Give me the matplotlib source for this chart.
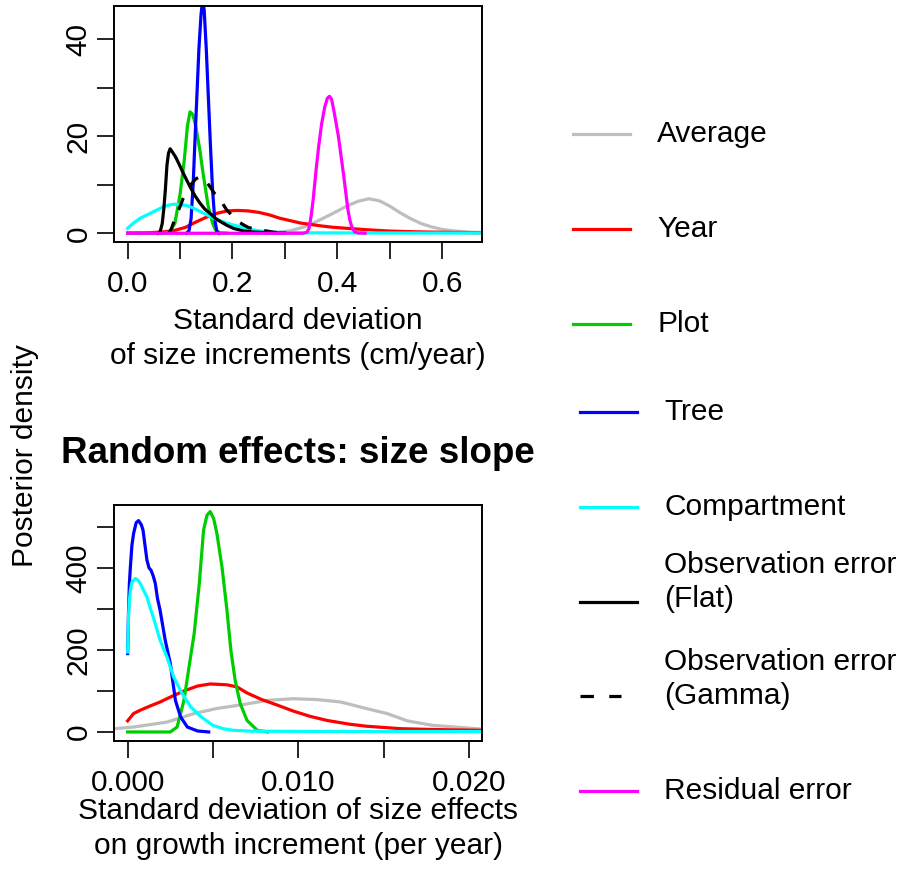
import numpy as np
import matplotlib
matplotlib.use("Agg")
import matplotlib.pyplot as plt
from matplotlib.lines import Line2D

plt.rcParams["font.family"] = ["Liberation Sans", "DejaVu Sans"]

# ---- top panel: sd of size increments (cm/year) ----
avg_x = [0.28, 0.31, 0.34, 0.36, 0.39, 0.42, 0.44, 0.46, 0.48, 0.50, 0.52, 0.54, 0.56, 0.58, 0.60, 0.62, 0.65, 0.68]
avg_y = [0.1, 0.5, 1.4, 2.4, 4.0, 5.7, 6.6, 7.1, 6.7, 5.6, 4.2, 3.0, 2.0, 1.3, 0.8, 0.5, 0.25, 0.15]

year_x = [0.00, 0.04, 0.07, 0.09, 0.11, 0.13, 0.15, 0.17, 0.19, 0.21, 0.23, 0.25, 0.27, 0.29, 0.31, 0.33,
          0.35, 0.37, 0.39, 0.42, 0.46, 0.50, 0.55, 0.60, 0.68]
year_y = [0.05, 0.1, 0.3, 0.6, 1.2, 2.3, 3.3, 4.1, 4.6, 4.7, 4.6, 4.3, 3.8, 3.1, 2.6, 2.1,
          1.8, 1.5, 1.25, 1.0, 0.7, 0.45, 0.3, 0.2, 0.1]

plot_x = [0.00, 0.07, 0.08, 0.09, 0.10, 0.108, 0.114, 0.119, 0.124, 0.129, 0.134, 0.138, 0.143, 0.148,
          0.153, 0.158, 0.163, 0.168, 0.175, 0.19]
plot_y = [0, 0, 0.3, 2, 8, 15, 22, 25, 24.5, 22.5, 19.5, 17, 13, 9.5,
          6, 3.6, 1.8, 0.6, 0.1, 0]

tree_x = [0.112, 0.117, 0.121, 0.125, 0.128, 0.132, 0.136, 0.140, 0.143, 0.146, 0.150, 0.154, 0.158,
          0.162, 0.166, 0.170, 0.174]
tree_y = [0, 0.5, 3, 10, 18, 28, 38, 45, 48, 46, 38, 28, 18, 9, 3, 0.5, 0]

comp_x = [0.00, 0.01, 0.024, 0.043, 0.056, 0.069, 0.08, 0.091, 0.102, 0.113, 0.125, 0.138, 0.151, 0.164,
          0.177, 0.189, 0.205, 0.221, 0.246, 0.278, 0.32, 0.40, 0.50, 0.68]
comp_y = [1.0, 2.0, 3.1, 4.1, 4.8, 5.5, 5.85, 6.0, 5.9, 5.7, 5.2, 4.5, 3.8, 3.1,
          2.6, 2.1, 1.6, 1.2, 0.55, 0.2, 0.1, 0.07, 0.05, 0.05]

flat_x = [0.058, 0.062, 0.066, 0.069, 0.072, 0.075, 0.078, 0.081, 0.085, 0.091, 0.097, 0.103, 0.111,
          0.119, 0.128, 0.138, 0.147, 0.157, 0.167, 0.177, 0.19, 0.202, 0.22, 0.24, 0.27, 0.30]
flat_y = [0, 0.3, 2, 5, 9, 14, 16.5, 17.4, 16.8, 15.8, 14.5, 13.1, 11.3,
          9.6, 7.8, 6.2, 5.0, 4.1, 3.1, 2.4, 1.6, 1.0, 0.5, 0.25, 0.1, 0.05]

gamma_x = [0.078, 0.083, 0.087, 0.091, 0.096, 0.100, 0.106, 0.113, 0.118, 0.123, 0.130, 0.137, 0.145,
           0.151, 0.157, 0.165, 0.177, 0.183, 0.189, 0.20, 0.211, 0.22, 0.23, 0.245, 0.26, 0.28, 0.30]
gamma_y = [0, 0.8, 2, 3.4, 4.5, 5.5, 7.2, 8.6, 9.6, 10.3, 11.2, 11.6, 11.3,
           10.5, 9.6, 8.3, 6.9, 5.8, 4.8, 3.6, 2.4, 1.8, 1.2, 0.8, 0.55, 0.2, 0.1]

resid_x = [0.0, 0.335, 0.342, 0.346, 0.350, 0.354, 0.359, 0.364, 0.370, 0.376, 0.381, 0.385, 0.389,
           0.393, 0.398, 0.402, 0.407, 0.412, 0.416, 0.420, 0.424, 0.428, 0.433, 0.44, 0.453]
resid_y = [0, 0, 0.2, 1, 3.5, 7, 12.5, 17.5, 22.5, 26, 27.8, 28.2, 27.6,
           25.5, 22.5, 20, 16, 12, 8.5, 5, 2.7, 1.2, 0.3, 0.05, 0]

# ---- bottom panel: sd of size effects (per year) ----
s_avg_x = [-0.0008, 0.00035, 0.0023, 0.0039, 0.0052, 0.0068, 0.0082, 0.0097, 0.0111, 0.0125, 0.014,
           0.0152, 0.0164, 0.0179, 0.0195, 0.0208]
s_avg_y = [8, 12, 24, 45, 57, 67, 77, 81, 79, 73, 57, 45, 27, 16, 11, 7]

s_year_x = [0.0, 0.00035, 0.00074, 0.0013, 0.0019, 0.0025, 0.0033, 0.0041, 0.00484, 0.0058, 0.0064,
            0.007, 0.0078, 0.0088, 0.0097, 0.0107, 0.0117, 0.013, 0.014, 0.016, 0.0179, 0.0208]
s_year_y = [27, 45, 53, 63, 73, 85, 100, 112, 117, 115, 110, 95, 80, 65, 51, 38, 28, 19, 14, 8, 6, 4]

s_plot_x = [0.0, 0.0025, 0.0029, 0.0033, 0.0036, 0.0039, 0.0042, 0.00445, 0.00465, 0.00484, 0.00504,
            0.00523, 0.00553, 0.00582, 0.00605, 0.0063, 0.0066, 0.007, 0.0076, 0.0082]
s_plot_y = [0, 0, 12, 77, 159, 240, 362, 492, 528, 537, 520, 484, 402, 297, 199, 126, 69, 28, 4, 0]

s_tree_x = [0.0, 0.00005, 0.0001, 0.00016, 0.00025, 0.00035, 0.0005, 0.00064, 0.0008, 0.0009, 0.001,
            0.00113, 0.00125, 0.00137, 0.0015, 0.00162, 0.00175, 0.0019, 0.0022, 0.0025, 0.0028,
            0.0031, 0.0035, 0.0041, 0.00475]
s_tree_y = [191, 290, 360, 402, 455, 484, 510, 515, 505, 492, 460, 419, 400, 394, 380, 362, 325, 297,
            224, 167, 77, 37, 12, 2.4, 0]

s_comp_x = [0.0, 0.00005, 0.0001, 0.00016, 0.00025, 0.00045, 0.0006, 0.00074, 0.0009, 0.00113, 0.0013,
            0.0015, 0.0017, 0.0019, 0.0021, 0.0023, 0.0025, 0.0027, 0.0032, 0.0037, 0.0043, 0.005,
            0.0056, 0.0062, 0.0072, 0.010, 0.015, 0.0208]
s_comp_y = [195, 280, 320, 345, 365, 374, 370, 362, 348, 329, 305, 280, 252, 224, 203, 183, 158, 134,
            93, 61, 37, 16, 8, 4, 2, 1.5, 1, 1]

GRAY, RED, GREEN, BLUE, CYAN, MAG = "#BEBEBE", "#FF0000", "#00CD00", "#0000FF", "#00FFFF", "#FF00FF"
LW = 2.3
FS = 21.5

fig = plt.figure(figsize=(9, 8.71), dpi=100)
ax1 = fig.add_axes([114 / 900, 1 - 242 / 871, 368 / 900, 236 / 871])
ax2 = fig.add_axes([114 / 900, 1 - 741 / 871, 368 / 900, 236 / 871])

dash = (0, (4, 4))
ax1.plot(avg_x, avg_y, color=GRAY, lw=LW)
ax1.plot(year_x, year_y, color=RED, lw=LW)
ax1.plot(plot_x, plot_y, color=GREEN, lw=LW)
ax1.plot(tree_x, tree_y, color=BLUE, lw=LW)
ax1.plot(comp_x, comp_y, color=CYAN, lw=LW)
ax1.plot(flat_x, flat_y, color="black", lw=LW)
ax1.plot(gamma_x, gamma_y, color="black", lw=LW, linestyle=dash)
ax1.plot(resid_x, resid_y, color=MAG, lw=LW)
ax1.set_xlim(-0.026, 0.676)
ax1.set_ylim(-1.8, 46.8)
ax1.set_xticks(np.arange(0, 0.61, 0.1))
ax1.set_xticklabels(["0.0", "", "0.2", "", "0.4", "", "0.6"])
ax1.set_yticks([0, 10, 20, 30, 40])
ax1.set_yticklabels(["0", "", "20", "", "40"])
ax1.set_xlabel("Standard deviation\nof size increments (cm/year)", fontsize=FS, labelpad=6, linespacing=1.32)

ax2.plot(s_avg_x, s_avg_y, color=GRAY, lw=LW)
ax2.plot(s_year_x, s_year_y, color=RED, lw=LW)
ax2.plot(s_plot_x, s_plot_y, color=GREEN, lw=LW)
ax2.plot(s_tree_x, s_tree_y, color=BLUE, lw=LW)
ax2.plot(s_comp_x, s_comp_y, color=CYAN, lw=LW)
ax2.set_xlim(-0.0008, 0.02077)
ax2.set_ylim(-22, 553)
ax2.set_xticks([0, 0.005, 0.01, 0.015, 0.02])
ax2.set_xticklabels(["0.000", "", "0.010", "", "0.020"])
ax2.set_yticks([0, 100, 200, 300, 400, 500])
ax2.set_yticklabels(["0", "", "200", "", "400", ""])
ax2.set_xlabel("Standard deviation of size effects\non growth increment (per year)", fontsize=FS,
               labelpad=0, linespacing=1.28)
ax2.set_title("Random effects: size slope", fontsize=26.5, fontweight="bold", pad=30)

for ax in (ax1, ax2):
    for s in ax.spines.values():
        s.set_linewidth(1.4)
    ax.tick_params(axis="both", length=12.5, width=1.2, labelsize=FS, direction="out")
    ax.tick_params(axis="x", pad=8)
    ax.tick_params(axis="y", pad=3)
    for lab in ax.get_yticklabels():
        lab.set_rotation(90)
        lab.set_va("center")
        lab.set_ha("right")

fig.text(25 / 900, 1 - 456 / 871, "Posterior density", rotation=90, fontsize=FS, ha="center", va="center")

# legend on the right (pixel positions)
leg_labels = ["Average", "Year", "Plot", "Tree", "Compartment",
              "Observation error\n(Flat)", "Observation error\n(Gamma)", "Residual error"]
leg_colors = [GRAY, RED, GREEN, BLUE, CYAN, "black", "black", MAG]
leg_styles = ["-", "-", "-", "-", "-", "-", (0, (4.2, 4.8)), "-"]
leg_len = [57, 57, 57, 57, 57, 57, 41, 57]
leg_line_y = [134, 229, 324, 412, 507, 602, 696, 791]
leg_text_y = [134, 229, 324, 412, 507, 582, 679, 791]
leg_x0 = [573, 573, 573, 580, 580, 580, 580, 580]

for lab, c, ls, n, ly, ty, x0 in zip(leg_labels, leg_colors, leg_styles, leg_len, leg_line_y, leg_text_y, leg_x0):
    fig.add_artist(Line2D([x0 / 900, (x0 + n) / 900], [1 - ly / 871, 1 - ly / 871],
                          color=c, lw=LW, linestyle=ls, transform=fig.transFigure))
    fig.text((x0 + 84) / 900, 1 - ty / 871, lab, fontsize=FS, ha="left", va="center", linespacing=1.3)

fig.savefig("out.png", dpi=100)
